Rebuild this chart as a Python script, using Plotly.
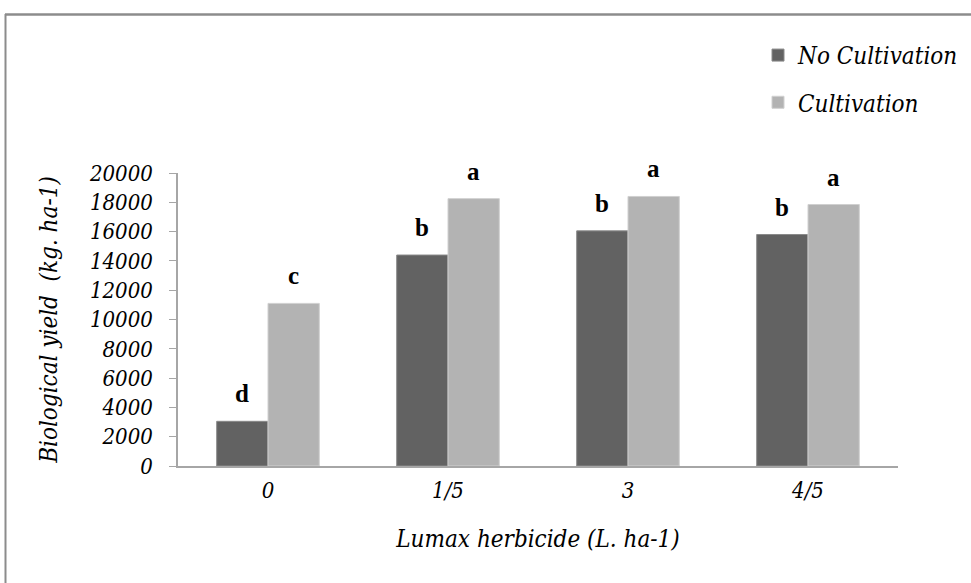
import plotly.graph_objects as go

categories = ["0", "1/5", "3", "4/5"]
no_cultivation = [3050, 14400, 16050, 15800]
cultivation = [11100, 18250, 18400, 17850]
letters_no = ["d", "b", "b", "b"]
letters_cult = ["c", "a", "a", "a"]
y_ticks = list(range(0, 20001, 2000))

DARK = "#626262"
LIGHT = "#b3b3b3"
SERIF_IT = "DejaVu Serif Condensed"

W, H = 971, 583
L, R, T, B = 178, 73, 172.5, 116.5
pw, ph = W - L - R, H - T - B

def px_x(p):
    return (p - L) / pw
def px_y(p):
    return (H - B - p) / ph

def ital(size):
    return dict(family=SERIF_IT, size=size, color="black", style="italic")

fig = go.Figure()
fig.add_trace(go.Bar(x=categories, y=no_cultivation, name="No Cultivation",
                     marker=dict(color=DARK, line=dict(color="#8a8a8a", width=1)),
                     legendgroup="a"))
fig.add_trace(go.Bar(x=categories, y=cultivation, name="Cultivation",
                     marker=dict(color=LIGHT, line=dict(color="#d0d0d0", width=1)),
                     legendgroup="b"))

shift = 0.1417 * pw / 4
letter_font = dict(family="Liberation Serif", size=25, color="black")
for i, (v, t) in enumerate(zip(no_cultivation, letters_no)):
    fig.add_annotation(x=i, y=v, text=f"<b>{t}</b>", showarrow=False, xshift=-shift,
                       yanchor="bottom", yshift=12, font=letter_font)
for i, (v, t) in enumerate(zip(cultivation, letters_cult)):
    fig.add_annotation(x=i, y=v, text=f"<b>{t}</b>", showarrow=False, xshift=shift,
                       yanchor="bottom", yshift=12, font=letter_font)

fig.add_shape(type="line", xref="paper", yref="paper", x0=px_x(5), x1=px_x(990), y0=px_y(13.5), y1=px_y(13.5),
              line=dict(color="#8c8c8c", width=2.5))
fig.add_shape(type="line", xref="paper", yref="paper", x0=px_x(5.5), x1=px_x(5.5), y0=px_y(13), y1=px_y(600),
              line=dict(color="#8c8c8c", width=2))

fig.update_layout(
    width=W, height=H,
    margin=dict(l=L, r=R, t=T, b=B, autoexpand=False),
    paper_bgcolor="white", plot_bgcolor="white",
    barmode="group", bargap=0.43, bargroupgap=0,
    font=dict(family=SERIF_IT, size=20, color="black"),
    showlegend=True,
    legend=dict(x=px_x(758), y=px_y(32), xanchor="left", yanchor="top",
                traceorder="grouped", tracegroupgap=13,
                font=ital(24), bgcolor="rgba(0,0,0,0)", itemwidth=30),
    xaxis=dict(type="category", showline=True, linecolor="#a6a6a6", linewidth=1.5,
               ticks="", showgrid=False, tickfont=ital(22), ticklabelstandoff=4,
               title=dict(text="Lumax herbicide (L. ha-1)", standoff=28, font=ital(24))),
    yaxis=dict(range=[0, 20000], showline=True, linecolor="#a6a6a6", linewidth=1.5,
               ticks="outside", ticklen=7, tickcolor="#a6a6a6", tickwidth=1,
               showgrid=False, zeroline=False,
               tickvals=y_ticks, ticktext=[str(v) for v in y_ticks],
               tickfont=ital(22), ticklabelstandoff=12,
               title=dict(text="Biological yield  (kg. ha-1)", standoff=24, font=ital(24))),
)

fig.write_html("out.html", config={"displayModeBar": False},
               post_script="document.body.style.margin='0px';")
